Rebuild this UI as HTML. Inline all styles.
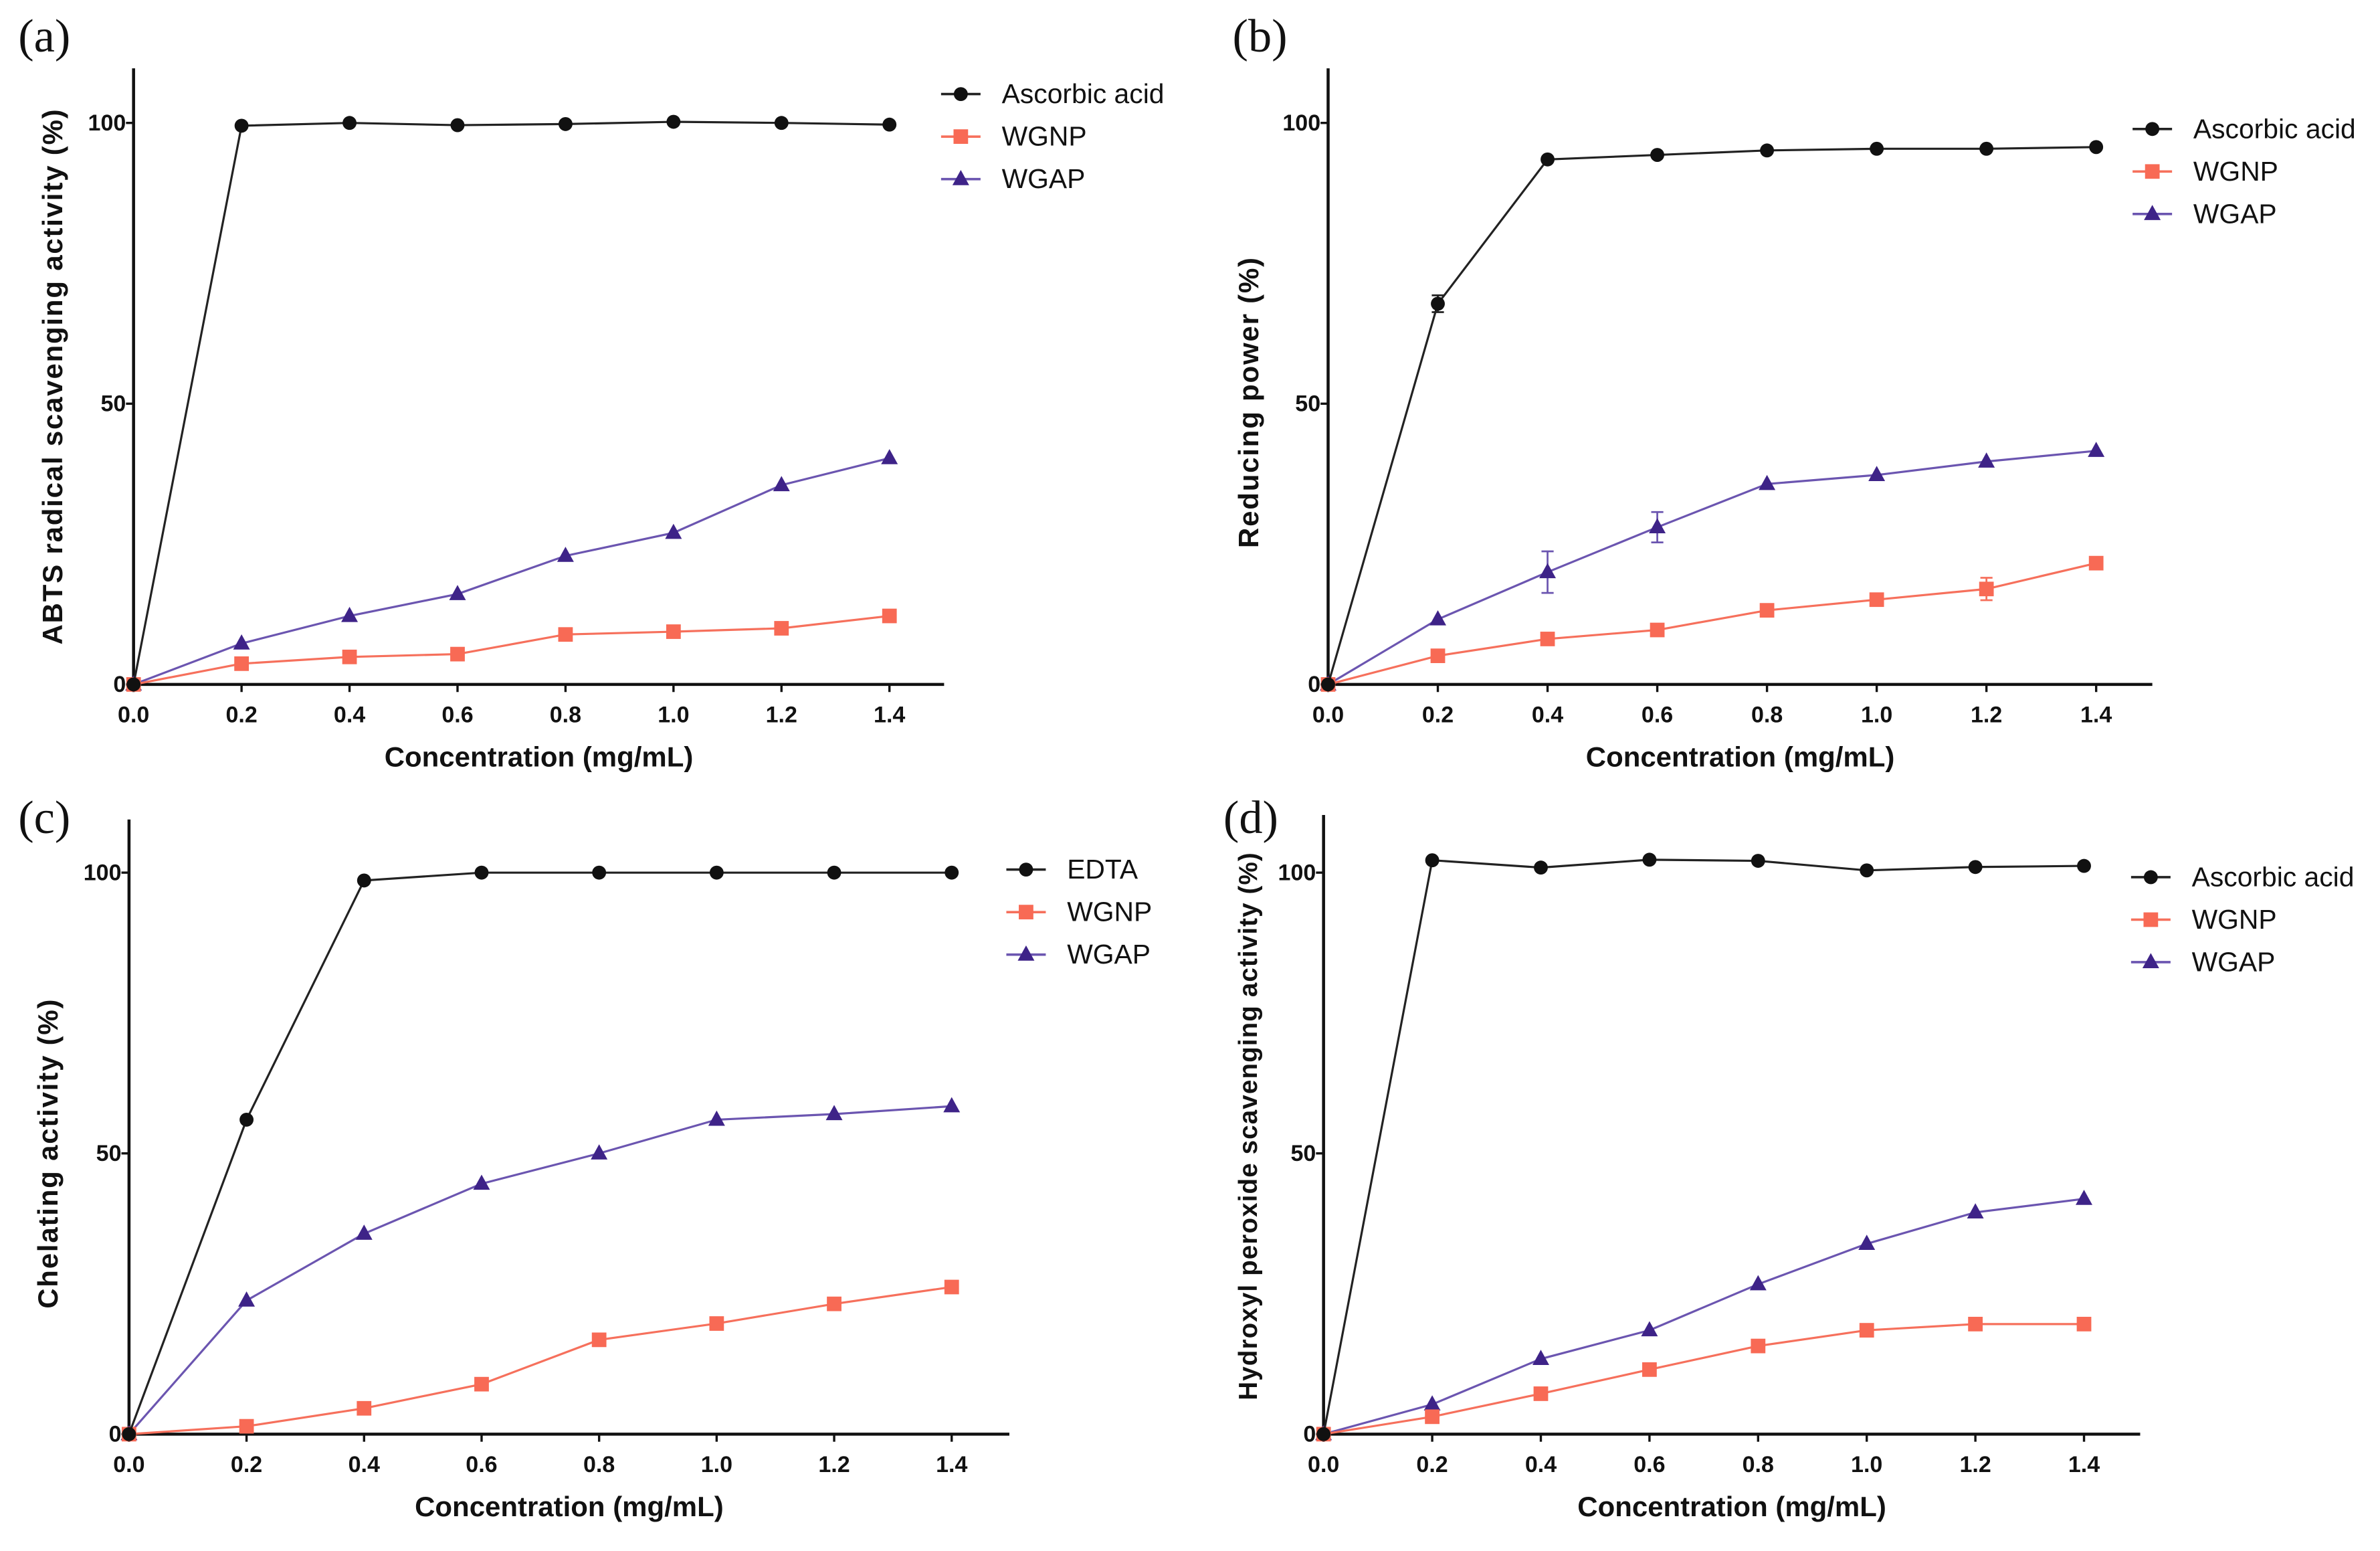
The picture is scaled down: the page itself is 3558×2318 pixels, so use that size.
<!DOCTYPE html>
<html><head><meta charset="utf-8"><title>Antioxidant activity panels</title>
<style>
html,body{margin:0;padding:0;background:#fff;}
svg{display:block;}
text{font-family:"Liberation Sans",Arial,sans-serif;}
.tick{font-size:15px;font-weight:bold;fill:#111;}
.atitle{font-size:18.5px;font-weight:bold;fill:#111;}
.ytitle{font-size:18.5px;font-weight:bold;fill:#111;letter-spacing:0.8px;}
.leg{font-size:18px;fill:#111;}
.plab{font-family:"Liberation Serif",serif;font-size:31px;fill:#111;}
</style></head>
<body>
<svg id="fig" width="3558" height="2318" viewBox="0 0 1568 1022" preserveAspectRatio="none" xmlns="http://www.w3.org/2000/svg"></svg>
<script>
const xCats = [0, 0.2, 0.4, 0.6, 0.8, 1.0, 1.2, 1.4];
const xTickLabels = ["0.0","0.2","0.4","0.6","0.8","1.0","1.2","1.4"];
const yTickVals = [0, 50, 100];
const yTickLabels = ["0","50","100"];
// panel a
const aAsc  = [0, 99.5, 100, 99.6, 99.8, 100.2, 100, 99.7];
const aWGNP = [0, 3.7, 4.9, 5.4, 8.9, 9.4, 10, 12.2];
const aWGAP = [0, 7.3, 12.2, 16.1, 22.9, 27, 35.5, 40.3];
// panel b
const bAsc  = [0, 67.8, 93.5, 94.3, 95.1, 95.4, 95.4, 95.7];
const bWGNP = [0, 5.1, 8.1, 9.7, 13.2, 15.1, 17, 21.6];
const bWGAP = [0, 11.6, 20, 28, 35.7, 37.3, 39.7, 41.6];
const bAscErr  = [0, 1.5, 0, 0, 0, 0, 0, 0];
const bWGNPErr = [0, 0, 0, 0, 0, 0, 2, 0];
const bWGAPErr = [0, 0, 3.7, 2.7, 0, 0, 0, 0];
// panel c
const cEDTA = [0, 56, 98.6, 100, 100, 100, 100, 100];
const cWGNP = [0, 1.4, 4.6, 8.9, 16.8, 19.7, 23.2, 26.2];
const cWGAP = [0, 23.8, 35.7, 44.6, 50, 56, 57, 58.4];
// panel d
const dAsc  = [0, 102.2, 100.9, 102.3, 102.1, 100.4, 101, 101.2];
const dWGNP = [0, 3.1, 7.2, 11.5, 15.7, 18.5, 19.6, 19.6];
const dWGAP = [0, 5.3, 13.4, 18.5, 26.7, 33.9, 39.5, 41.9];

const NS = "http://www.w3.org/2000/svg";
const svg = document.getElementById('fig');
function mk(tag, attrs, parent){ const e=document.createElementNS(NS,tag); for(const k in attrs) e.setAttribute(k,attrs[k]); (parent||svg).appendChild(e); return e; }
const COL = {k:'#111111', r:'#F86A55', p:'#3E2388'};
const LINECOL = {k:'#222222', r:'#F6705C', p:'#6B55B0'};

function marker(g, type, cx, cy, color){
  let m;
  if(type==='c') m = mk('circle',{cx:cx,cy:cy,r:4.6,fill:color},g);
  else if(type==='s') m = mk('rect',{x:cx-4.8,y:cy-4.8,width:9.6,height:9.6,fill:color},g);
  else m = mk('polygon',{points:`${cx},${cy-6} ${cx-5.5},${cy+4} ${cx+5.5},${cy+4}`,fill:color},g);
  return m;
}

function panel(p){
  const g = mk('g',{});
  
  
  const sx = v => p.x0 + (p.x14-p.x0)*v/1.4;
  const sy = v => p.y0 - (p.y0-p.y100)*v/100;
  const ya = mk('line',{x1:p.x0,y1:p.top,x2:p.x0,y2:p.y0,stroke:'#111','stroke-width':2},g);
   
  const xa = mk('line',{x1:p.x0,y1:p.y0,x2:p.right,y2:p.y0,stroke:'#111','stroke-width':2},g);
   
  yTickVals.forEach((v,i)=>{
    mk('line',{x1:p.x0-5,y1:sy(v),x2:p.x0,y2:sy(v),stroke:'#111','stroke-width':1.5},g);
    const t = mk('text',{x:p.x0-5,y:sy(v)+5,'text-anchor':'end',class:'tick'},g);
    t.textContent = yTickLabels[i];
     
  });
  xCats.forEach((v,i)=>{
    mk('line',{x1:sx(v),y1:p.y0,x2:sx(v),y2:p.y0+5,stroke:'#111','stroke-width':1.5},g);
    const t = mk('text',{x:sx(v),y:p.y0+25,'text-anchor':'middle',class:'tick'},g);
    t.textContent = xTickLabels[i];
     
  });
  const xt = mk('text',{x:(p.x0+p.right)/2,y:p.y0+54,'text-anchor':'middle',class:'atitle'},g);
  xt.textContent = 'Concentration (mg/mL)';
   
  const yt = mk('text',{x:0,y:0,'text-anchor':'middle',class:'ytitle',transform:`translate(${p.ytx},${p.yty}) rotate(-90)`},g);
  if(p.ytSize) yt.setAttribute('style','font-size:'+p.ytSize+'px;letter-spacing:0.5px');
  yt.textContent = p.ytitle;
   
  const pl = mk('text',{x:p.lx,y:p.ly,class:'plab'},g);
  pl.textContent = '('+p.id+')';
   
  p.series.slice().reverse().forEach(s=>{
    const sg = mk('g',{},g);
    
    
    const pts = xCats.map((x,i)=>sx(x)+','+sy(s.vals[i])).join(' ');
    mk('polyline',{points:pts,fill:'none',stroke:LINECOL[s.c],'stroke-width':1.4},sg);
    xCats.forEach((x,i)=>{
      if(s.err && s.err[i]>0){
        const e=s.err[i], cx=sx(x);
        mk('path',{d:`M${cx},${sy(s.vals[i]-e)}V${sy(s.vals[i]+e)}M${cx-4},${sy(s.vals[i]+e)}H${cx+4}M${cx-4},${sy(s.vals[i]-e)}H${cx+4}`,stroke:LINECOL[s.c],'stroke-width':1.2,fill:'none'},sg);
      }
      const m = marker(sg, s.m, sx(x), sy(s.vals[i]), COL[s.c]);
      
      
    });
  });
  p.series.forEach((s,i)=>{
    const ly = p.legY + i*28;
    const lg = mk('g',{},g);
    
    
    mk('line',{x1:p.legX-13,y1:ly,x2:p.legX+13,y2:ly,stroke:LINECOL[s.c],'stroke-width':1.6},lg);
    marker(lg, s.m, p.legX, ly, COL[s.c]);
    const t = mk('text',{x:p.legX+27,y:ly+6,class:'leg'},lg);
    t.textContent = s.name;
  });
}

panel({id:'a',x0:88,x14:586,y0:451,y100:81,top:45,right:622,ytx:41,yty:248,ytitle:'ABTS radical scavenging activity (%)',lx:12,ly:34,legX:633,legY:62,
  series:[{name:'Ascorbic acid',vals:aAsc,c:'k',m:'c'},{name:'WGNP',vals:aWGNP,c:'r',m:'s'},{name:'WGAP',vals:aWGAP,c:'p',m:'t'}]});
panel({id:'b',x0:875,x14:1381,y0:451,y100:81,top:45,right:1418,ytx:829,yty:265,ytitle:'Reducing power (%)',lx:812,ly:34,legX:1418,legY:85,
  series:[{name:'Ascorbic acid',vals:bAsc,c:'k',m:'c',err:bAscErr},{name:'WGNP',vals:bWGNP,c:'r',m:'s',err:bWGNPErr},{name:'WGAP',vals:bWGAP,c:'p',m:'t',err:bWGAPErr}]});
panel({id:'c',x0:85,x14:627,y0:945,y100:575,top:540,right:665,ytx:38,yty:760,ytitle:'Chelating activity (%)',lx:12,ly:549,legX:676,legY:573,
  series:[{name:'EDTA',vals:cEDTA,c:'k',m:'c'},{name:'WGNP',vals:cWGNP,c:'r',m:'s'},{name:'WGAP',vals:cWGAP,c:'p',m:'t'}]});
panel({id:'d',x0:872,x14:1373,y0:945,y100:575,top:537,right:1410,ytx:828,yty:742,ytSize:17,ytitle:'Hydroxyl peroxide scavenging activity (%)',lx:806,ly:549,legX:1417,legY:578,
  series:[{name:'Ascorbic acid',vals:dAsc,c:'k',m:'c'},{name:'WGNP',vals:dWGNP,c:'r',m:'s'},{name:'WGAP',vals:dWGAP,c:'p',m:'t'}]});
</script>
</body></html>
